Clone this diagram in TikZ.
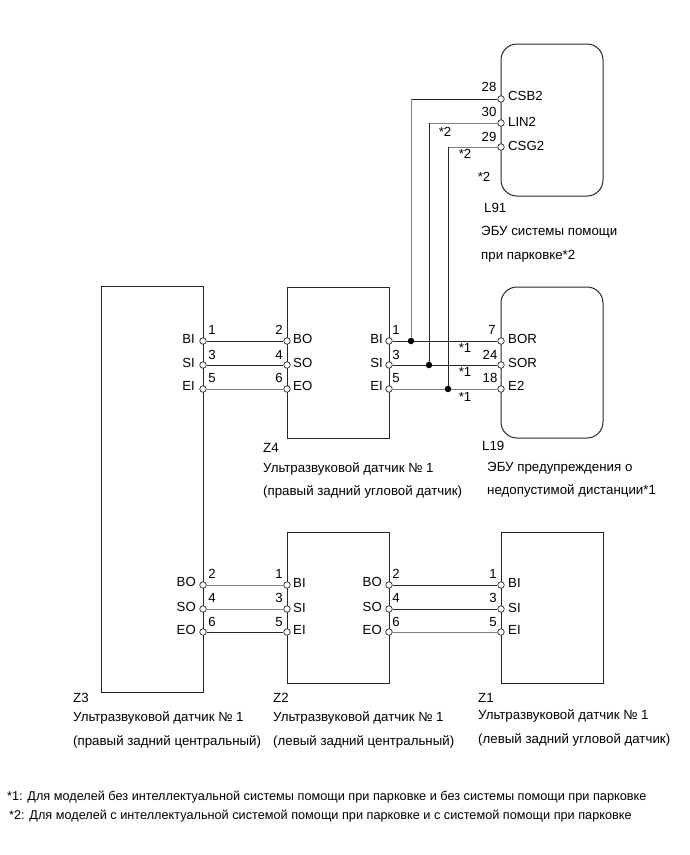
\documentclass[tikz,border=0pt]{standalone}
\usepackage{fontspec}
\setmainfont{Liberation Sans}
\usetikzlibrary{positioning}

\tikzset{
  unitbox/.style={draw=black!85, line width=1pt, fill=none, inner sep=0pt},
  ecubox/.style={unitbox, rounded corners=16pt},
  pinpt/.style={circle, draw=black!85, fill=white, line width=0.7pt, inner sep=0pt, minimum size=6.5pt},
  joint/.style={circle, fill=black, inner sep=0pt, minimum size=6.5pt},
  wire/.style={draw=black!85, line width=0.9pt},
  wirelt/.style={draw=black!50, line width=1pt},
  lbl/.style={font=\fontsize{13.2}{13.2}\selectfont, inner sep=0pt},
  lblr/.style={lbl, anchor=west},
  lbll/.style={lbl, anchor=east},
  txt/.style={font=\fontsize{13.3}{13.3}\selectfont, inner sep=0pt, anchor=west},
  note/.style={font=\fontsize{12.7}{12.7}\selectfont, inner sep=0pt, anchor=west},
}

\begin{document}
\begin{tikzpicture}[x=1pt, y=-1pt]
\useasboundingbox (0, 0) rectangle (690, 855);

% Draw boxes
\node[unitbox, minimum width=102pt, minimum height=406pt] (Z3) at (152, 489) {};
\node[unitbox, minimum width=102pt, minimum height=151pt] (Z4) at (338, 362.5) {};
\node[unitbox, minimum width=102pt, minimum height=151pt] (Z2) at (338, 607.5) {};
\node[unitbox, minimum width=102pt, minimum height=151pt] (Z1) at (552, 607.5) {};
\node[ecubox, minimum width=102pt, minimum height=151pt] (L19) at (552, 362.5) {};
\node[ecubox, minimum width=102pt, minimum height=152pt] (L91) at (552, 120) {};

% Draw pins
\node[pinpt] (z3bi) at (203, 341) {};
\node[pinpt] (z3si) at (203, 365) {};
\node[pinpt] (z3ei) at (203, 389) {};
\node[pinpt] (z4bo) at (287, 341) {};
\node[pinpt] (z4so) at (287, 365) {};
\node[pinpt] (z4eo) at (287, 389) {};
\node[pinpt] (z4bi) at (389, 341) {};
\node[pinpt] (z4si) at (389, 365) {};
\node[pinpt] (z4ei) at (389, 389) {};
\node[pinpt] (bor) at (501, 341) {};
\node[pinpt] (sor) at (501, 365) {};
\node[pinpt] (e2) at (501, 389) {};
\node[pinpt] (csb) at (501, 99) {};
\node[pinpt] (lin) at (501, 123) {};
\node[pinpt] (csg) at (501, 147) {};
\node[pinpt] (z3bo) at (203, 585) {};
\node[pinpt] (z3so) at (203, 609) {};
\node[pinpt] (z3eo) at (203, 632) {};
\node[pinpt] (z2bi) at (287, 585) {};
\node[pinpt] (z2si) at (287, 609) {};
\node[pinpt] (z2ei) at (287, 632) {};
\node[pinpt] (z2bo) at (389, 585) {};
\node[pinpt] (z2so) at (389, 609) {};
\node[pinpt] (z2eo) at (389, 632) {};
\node[pinpt] (z1bi) at (501, 585) {};
\node[pinpt] (z1si) at (501, 609) {};
\node[pinpt] (z1ei) at (501, 632) {};

% Draw joints
\node[joint] (jbi) at (411, 341) {};
\node[joint] (jsi) at (429, 365) {};
\node[joint] (jei) at (448, 389) {};
\coordinate (cbi) at (411, 99);
\coordinate (csi) at (429, 123);
\coordinate (cei) at (448, 147);

% Draw wires
\draw[wire] (z3bi) -- (z4bo);
\draw[wire] (z3si) -- (z4so);
\draw[wirelt] (z3ei) -- (z4eo);
\draw[wire] (z4bi) -- (jbi);
\draw[wire] (jbi) -- (bor);
\draw[wire] (z4si) -- (jsi);
\draw[wire] (jsi) -- (sor);
\draw[wirelt] (z4ei) -- (jei);
\draw[wirelt] (jei) -- (e2);
\draw[wire] (csb) -- (cbi);
\draw[wirelt] (cbi) -- (jbi);
\draw[wirelt] (lin) -- (csi);
\draw[wire] (csi) -- (jsi);
\draw[wirelt] (csg) -- (cei);
\draw[wire] (cei) -- (jei);
\draw[wirelt] (z3bo) -- (z2bi);
\draw[wirelt] (z3so) -- (z2si);
\draw[wire] (z3eo) -- (z2ei);
\draw[wire] (z2bo) -- (z1bi);
\draw[wire] (z2so) -- (z1si);
\draw[wirelt] (z2eo) -- (z1ei);

% Draw Z3 pin labels
\node[lbll] (t1) at (195, 339) {BI};
\node[lbll] (t2) at (195, 363) {SI};
\node[lbll] (t3) at (195, 386) {EI};
\node[lbl] (t4) at (212, 330) {1};
\node[lbl] (t5) at (212, 355) {3};
\node[lbl] (t6) at (212, 378) {5};
\node[lbll] (t7) at (196, 582) {BO};
\node[lbll] (t8) at (196, 607) {SO};
\node[lbll] (t9) at (196, 630) {EO};
\node[lbl] (t10) at (212, 574) {2};
\node[lbl] (t11) at (212, 598) {4};
\node[lbl] (t12) at (212, 622) {6};

% Draw Z4 pin labels
\node[lbl] (t13) at (279, 330) {2};
\node[lbl] (t14) at (279, 355) {4};
\node[lbl] (t15) at (279, 378) {6};
\node[lblr] (t16) at (293, 339) {BO};
\node[lblr] (t17) at (293, 363) {SO};
\node[lblr] (t18) at (293, 386) {EO};
\node[lbll] (t19) at (383, 339) {BI};
\node[lbll] (t20) at (383, 363) {SI};
\node[lbll] (t21) at (383, 386) {EI};
\node[lbl] (t22) at (396, 330) {1};
\node[lbl] (t23) at (396, 355) {3};
\node[lbl] (t24) at (396, 378) {5};

% Draw L19 pin labels
\node[lbl] (t25) at (492, 330) {7};
\node[lbl] (t26) at (490, 355) {24};
\node[lbl] (t27) at (490, 378) {18};
\node[lblr] (t28) at (508, 339) {BOR};
\node[lblr] (t29) at (508, 363) {SOR};
\node[lblr] (t30) at (508, 386) {E2};
\node[lbl] (t31) at (465, 348) {*1};
\node[lbl] (t32) at (465, 372) {*1};
\node[lbl] (t33) at (465, 397) {*1};

% Draw L91 pin labels
\node[lbl] (t34) at (489, 87) {28};
\node[lbl] (t35) at (489, 112) {30};
\node[lbl] (t36) at (489, 137) {29};
\node[lblr] (t37) at (508, 96) {CSB2};
\node[lblr] (t38) at (508, 122) {LIN2};
\node[lblr] (t39) at (508, 146) {CSG2};
\node[lbl] (t40) at (445, 132) {*2};
\node[lbl] (t41) at (465, 154) {*2};
\node[lbl] (t42) at (484, 177) {*2};

% Draw Z2 and Z1 pin labels
\node[lbl] (t43) at (279, 574) {1};
\node[lbl] (t44) at (279, 598) {3};
\node[lbl] (t45) at (279, 622) {5};
\node[lblr] (t46) at (293, 583) {BI};
\node[lblr] (t47) at (293, 608) {SI};
\node[lblr] (t48) at (293, 630) {EI};
\node[lbll] (t49) at (382, 582) {BO};
\node[lbll] (t50) at (382, 607) {SO};
\node[lbll] (t51) at (382, 630) {EO};
\node[lbl] (t52) at (396, 574) {2};
\node[lbl] (t53) at (396, 598) {4};
\node[lbl] (t54) at (396, 622) {6};
\node[lbl] (t55) at (493, 574) {1};
\node[lbl] (t56) at (493, 598) {3};
\node[lbl] (t57) at (493, 622) {5};
\node[lblr] (t58) at (508, 583) {BI};
\node[lblr] (t59) at (508, 608) {SI};
\node[lblr] (t60) at (508, 630) {EI};

% Draw captions
\node[txt] (l91a) at (484, 208) {L91};
\node[txt] (l91b) at (481, 232) {ЭБУ системы помощи};
\node[txt] (l91c) at (481, 256) {при парковке*2};
\node[txt] (l19a) at (482, 446) {L19};
\node[txt] (l19b) at (487, 468) {ЭБУ предупреждения о};
\node[txt] (l19c) at (487, 491) {недопустимой дистанции*1};
\node[txt] (z4a) at (263, 448) {Z4};
\node[txt] (z4b) at (263, 469) {Ультразвуковой датчик № 1};
\node[txt] (z4c) at (263, 492) {(правый задний угловой датчик)};
\node[txt] (z3a) at (73, 698) {Z3};
\node[txt] (z3b) at (73, 718) {Ультразвуковой датчик № 1};
\node[txt] (z3c) at (73, 742) {(правый задний центральный)};
\node[txt] (z2a) at (273, 698) {Z2};
\node[txt] (z2b) at (273, 718) {Ультразвуковой датчик № 1};
\node[txt] (z2c) at (273, 742) {(левый задний центральный)};
\node[txt] (z1a) at (478, 698) {Z1};
\node[txt] (z1b) at (478, 716) {Ультразвуковой датчик № 1};
\node[txt] (z1c) at (478, 740) {(левый задний угловой датчик)};

% Draw footnotes
\node[note] (n1) at (7, 797) {*1: Для моделей без интеллектуальной системы помощи при парковке и без системы помощи при парковке};
\node[note] (n2) at (9, 816) {*2: Для моделей с интеллектуальной системой помощи при парковке и с системой помощи при парковке};
\end{tikzpicture}
\end{document}
